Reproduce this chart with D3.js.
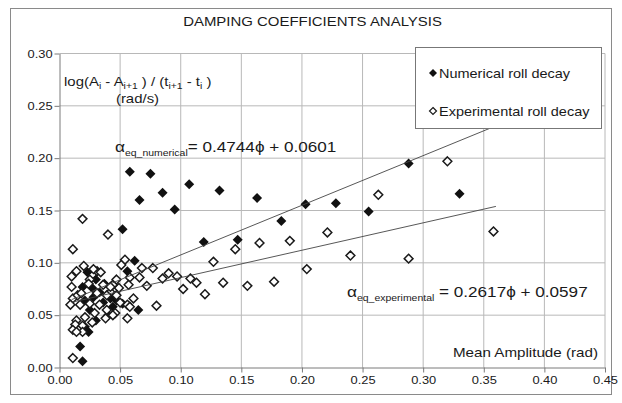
<!DOCTYPE html>
<html>
<head>
<meta charset="utf-8">
<script src="https://cdn.jsdelivr.net/npm/d3@7"></script>
<style>
  body { margin: 0; background: #fff; }
  text { font-family: "Liberation Sans", Arial, sans-serif; fill: #1a1a1a; }
</style>
</head>
<body>
<svg id="chart" width="622" height="403"></svg>
<script>
// numerical roll decay (filled diamonds)
var numAmp  = [0.058, 0.075, 0.066, 0.085, 0.095, 0.052, 0.107, 0.132, 0.163, 0.119,
               0.147, 0.183, 0.203, 0.228, 0.255, 0.288, 0.330, 0.062, 0.056, 0.023,
               0.019, 0.030, 0.047, 0.042, 0.033, 0.065, 0.021, 0.024, 0.017, 0.019,
               0.028, 0.037, 0.025, 0.030, 0.036, 0.044, 0.027, 0.040, 0.021, 0.052];
var numDamp = [0.187, 0.185, 0.160, 0.167, 0.151, 0.132, 0.175, 0.169, 0.162, 0.120,
               0.122, 0.140, 0.156, 0.157, 0.149, 0.195, 0.166, 0.102, 0.092, 0.091,
               0.077, 0.084, 0.064, 0.066, 0.072, 0.055, 0.039, 0.034, 0.020, 0.006,
               0.067, 0.080, 0.055, 0.045, 0.062, 0.058, 0.076, 0.050, 0.064, 0.061];

// experimental roll decay (hollow diamonds)
var expAmp  = [0.019, 0.011, 0.040, 0.145, 0.165, 0.190, 0.221, 0.263, 0.320, 0.240,
               0.204, 0.288, 0.358, 0.102, 0.113, 0.120, 0.135, 0.155, 0.177, 0.127,
               0.054, 0.051, 0.068, 0.077, 0.066, 0.058, 0.090, 0.085, 0.097, 0.108,
               0.072, 0.057, 0.049, 0.044, 0.047, 0.061, 0.080, 0.020, 0.014, 0.010,
               0.031, 0.034, 0.010, 0.025, 0.036, 0.056, 0.050, 0.042, 0.047, 0.011,
               0.015, 0.009, 0.017, 0.025, 0.033, 0.039, 0.046, 0.038, 0.056, 0.029,
               0.021, 0.014, 0.013, 0.019, 0.027, 0.011, 0.019, 0.014, 0.011, 0.024,
               0.039, 0.058, 0.044, 0.042, 0.018, 0.031, 0.028];
var expDamp = [0.142, 0.113, 0.127, 0.113, 0.119, 0.121, 0.129, 0.165, 0.197, 0.107,
               0.094, 0.104, 0.130, 0.075, 0.081, 0.070, 0.081, 0.078, 0.082, 0.101,
               0.103, 0.098, 0.095, 0.095, 0.086, 0.086, 0.090, 0.085, 0.087, 0.085,
               0.078, 0.079, 0.076, 0.079, 0.084, 0.066, 0.059, 0.097, 0.092, 0.087,
               0.092, 0.091, 0.077, 0.084, 0.079, 0.060, 0.062, 0.072, 0.069, 0.066,
               0.069, 0.060, 0.060, 0.061, 0.060, 0.055, 0.052, 0.047, 0.047, 0.052,
               0.048, 0.045, 0.041, 0.040, 0.043, 0.036, 0.034, 0.034, 0.009, 0.080,
               0.069, 0.058, 0.050, 0.077, 0.071, 0.071, 0.094];

// linear trend lines: slope, intercept
var fitNum = [0.4744, 0.0601];
var fitExp = [0.2617, 0.0597];
var fitRange = [0.01, 0.36];

var xTicks = [0, 0.05, 0.10, 0.15, 0.20, 0.25, 0.30, 0.35, 0.40, 0.45];
var yTicks = [0, 0.05, 0.10, 0.15, 0.20, 0.25, 0.30];

var sx = 1.15; // text in the picture is a little stretched sideways

var svg = d3.select("#chart");

svg.append("rect")
   .attr("x", 10.5).attr("y", 8.5)
   .attr("width", 601).attr("height", 386)
   .attr("fill", "#fff").attr("stroke", "#8a8a8a");

var x = d3.scaleLinear().domain([0, 0.45]).range([59.5, 605]);
var y = d3.scaleLinear().domain([0, 0.30]).range([367.5, 53.5]);

function label(px, py, size, anchor) {
  return svg.append("text")
            .attr("transform", "translate(" + px + "," + py + ") scale(" + sx + ",1)")
            .attr("text-anchor", anchor || "start")
            .style("font-size", size + "px");
}

label(312.5, 26, 13, "middle").text("DAMPING COEFFICIENTS ANALYSIS");

// grid
svg.append("g").selectAll("line")
   .data(xTicks.slice(1))
   .enter().append("line")
   .attr("x1", function(d) { return x(d); })
   .attr("x2", function(d) { return x(d); })
   .attr("y1", y(0)).attr("y2", y(0.30))
   .attr("stroke", "#b8b8b8");

svg.append("g").selectAll("line")
   .data(yTicks.slice(1))
   .enter().append("line")
   .attr("y1", function(d) { return y(d); })
   .attr("y2", function(d) { return y(d); })
   .attr("x1", x(0)).attr("x2", x(0.45))
   .attr("stroke", "#b8b8b8");

// axes
var fmt = d3.format(".2f");

var gx = svg.append("g")
   .attr("transform", "translate(0," + y(0) + ")")
   .call(d3.axisBottom(x).tickValues(xTicks).tickFormat(fmt).tickSizeInner(5).tickSizeOuter(0));

var gy = svg.append("g")
   .attr("transform", "translate(" + x(0) + ",0)")
   .call(d3.axisLeft(y).tickValues(yTicks).tickFormat(fmt).tickSizeInner(5).tickSizeOuter(0));

[gx, gy].forEach(function(g) {
  g.select(".domain").attr("stroke", "#7a7a7a");
  g.selectAll(".tick line").attr("stroke", "#7a7a7a");
  g.selectAll(".tick text")
   .attr("fill", "#1a1a1a")
   .style("font-family", "'Liberation Sans', Arial, sans-serif")
   .style("font-size", "11.2px")
   .attr("transform", "scale(" + sx + ",1)");
});
gx.selectAll(".tick text").attr("y", 9);
gy.selectAll(".tick text").attr("x", -6);

// markers
var filled = "M0,-5L5,0L0,5L-5,0Z";
var hollow = "M0,-4.4L4.4,0L0,4.4L-4.4,0Z";

svg.append("g").selectAll("path")
   .data(d3.range(numAmp.length))
   .enter().append("path")
   .attr("d", filled)
   .attr("transform", function(i) { return "translate(" + x(numAmp[i]) + "," + y(numDamp[i]) + ")"; })
   .attr("fill", "#111");

svg.append("g").selectAll("path")
   .data(d3.range(expAmp.length))
   .enter().append("path")
   .attr("d", hollow)
   .attr("transform", function(i) { return "translate(" + x(expAmp[i]) + "," + y(expDamp[i]) + ")"; })
   .attr("fill", "#fff")
   .attr("stroke", "#1a1a1a")
   .attr("stroke-width", 1.5);

// trend lines
var line = d3.line()
   .x(function(d) { return x(d[0]); })
   .y(function(d) { return y(d[1]); });

[fitNum, fitExp].forEach(function(f) {
  svg.append("path")
     .attr("d", line(fitRange.map(function(a) { return [a, f[0] * a + f[1]]; })))
     .attr("fill", "none")
     .attr("stroke", "#444")
     .attr("stroke-width", 0.9);
});

// legend
svg.append("rect")
   .attr("x", 415.5).attr("y", 47.5)
   .attr("width", 186).attr("height", 81)
   .attr("fill", "#fff").attr("stroke", "#777");

svg.append("path").attr("d", "M0,-4L4,0L0,4L-4,0Z")
   .attr("transform", "translate(433,73)").attr("fill", "#111");
svg.append("path").attr("d", "M0,-3.5L3.5,0L0,3.5L-3.5,0Z")
   .attr("transform", "translate(433,111)")
   .attr("fill", "#fff").attr("stroke", "#1a1a1a").attr("stroke-width", 1.2);

label(439, 77.5, 12.6).text("Numerical roll decay");
label(439, 115.5, 12.6).text("Experimental roll decay");

// y axis title
var yt = label(64, 86, 13);
yt.append("tspan").text("log(A");
yt.append("tspan").attr("dy", 3).style("font-size", "9px").text("i");
yt.append("tspan").attr("dy", -3).text(" - A");
yt.append("tspan").attr("dy", 3).style("font-size", "9px").text("i+1");
yt.append("tspan").attr("dy", -3).text(" ) / (t");
yt.append("tspan").attr("dy", 3).style("font-size", "9px").text("i+1");
yt.append("tspan").attr("dy", -3).text(" - t");
yt.append("tspan").attr("dy", 3).style("font-size", "9px").text("i");
yt.append("tspan").attr("dy", -3).text(" )");

label(137.5, 103, 13, "middle").text("(rad/s)");

// equations
function equation(px, py, sub, rest) {
  var t = label(px, py, 14.9);
  t.append("tspan").style("font-size", "15px").text("α");
  t.append("tspan").attr("dy", 4).style("font-size", "9.1px").text(sub);
  t.append("tspan").attr("dy", -4).text(rest);
}
equation(115, 152, "eq_numerical", "= 0.4744ϕ + 0.0601");
equation(347, 297, "eq_experimental", " = 0.2617ϕ + 0.0597");

label(598, 357, 13.2, "end").text("Mean Amplitude (rad)");
</script>
</body>
</html>
